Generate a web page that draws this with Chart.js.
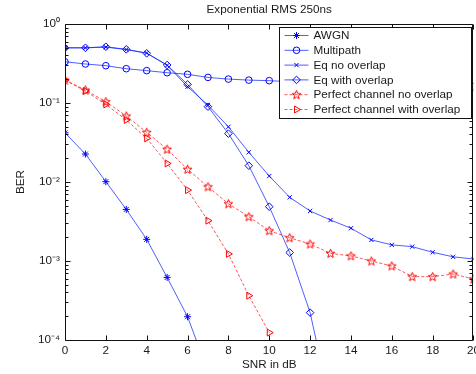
<!DOCTYPE html>
<html>
<head>
<meta charset="utf-8">
<script src="https://cdn.jsdelivr.net/npm/chart.js@4/dist/chart.umd.min.js"></script>
<style>
  html, body { margin: 0; padding: 0; background: #fff; overflow: hidden; width: 476px; height: 374px; }
  canvas { display: block; }
</style>
</head>
<body>
<canvas id="chart" width="484" height="374"></canvas>
<script>
// SNR (dB) values and BER curves
const snr = [0, 1, 2, 3, 4, 5, 6, 7, 8, 9, 10, 11, 12, 13, 14, 15, 16, 17, 18, 19, 20]
const awgn = [0.042, 0.0226, 0.0101, 0.0045, 0.00188, 0.00062, 0.000197, 0.00004]
const multipath = [0.333, 0.312, 0.297, 0.272, 0.257, 0.242, 0.231, 0.211, 0.201, 0.195, 0.192,
  0.186, 0.183, 0.18, 0.177, 0.174, 0.171, 0.168, 0.166, 0.163, 0.161]
const eqNoOverlap = [0.5, 0.5, 0.51, 0.475, 0.43, 0.3, 0.161, 0.094, 0.05, 0.0238, 0.0119,
  0.0064, 0.0043, 0.0033, 0.0026, 0.00185, 0.0016, 0.00152, 0.00129, 0.00113, 0.00106]
const eqOverlap = [0.5, 0.5, 0.516, 0.478, 0.426, 0.303, 0.172, 0.09, 0.041, 0.0161, 0.00487,
  0.00128, 0.000222, 0.000015]
const perfectNoOverlap = [0.195, 0.146, 0.104, 0.0685, 0.0426, 0.026, 0.0145, 0.0087, 0.0053, 0.00364, 0.00242,
  0.00197, 0.00164, 0.00125, 0.00116, 0.001, 0.000865, 0.000634, 0.000634, 0.000684, 0.000592]
const perfectOverlap = [0.195, 0.142, 0.096, 0.061, 0.0357, 0.0172, 0.0079, 0.00324, 0.00123, 0.000364, 0.000124]

const yTickValues = [1e-4, 1e-3, 1e-2, 1e-1, 1]
const xTickValues = [0, 2, 4, 6, 8, 10, 12, 14, 16, 18, 20]

const FONT = '"Liberation Sans", Arial, Helvetica, sans-serif'
const FSIZE = 11.7
const TEXT = '#1a1a1a'
const BLUE_LINE = 'rgba(20, 40, 255, 0.75)'
const BLUE = '#0000ff'
const RED_LINE = 'rgba(255, 30, 30, 0.75)'
const RED = '#ff0000'

const SUP = { '-': '\u207B', '0': '\u2070', '1': '\u00B9', '2': '\u00B2', '3': '\u00B3', '4': '\u2074' }
function powLabel(v) {
  const e = Math.round(Math.log10(v))
  return '10' + String(e).split('').map(c => SUP[c]).join('')
}

// hollow five-pointed star marker (MATLAB 'p')
function makePentagram(color) {
  const c = document.createElement('canvas')
  c.width = 11
  c.height = 11
  const g = c.getContext('2d')
  g.strokeStyle = color
  g.lineWidth = 1
  g.beginPath()
  for (let i = 0; i < 10; i++) {
    const r = i % 2 === 0 ? 4.6 : 2
    const a = -Math.PI / 2 + i * Math.PI / 5
    const px = 5.5 + r * Math.cos(a)
    const py = 5.8 + r * Math.sin(a)
    if (i === 0) g.moveTo(px, py)
    else g.lineTo(px, py)
  }
  g.closePath()
  g.stroke()
  return c
}
const pentagram = makePentagram(RED)

function pts(values) {
  return values.map((v, i) => ({ x: snr[i], y: v }))
}

function series(label, values, line, marker, style, radius, extra) {
  return Object.assign({
    label: label,
    data: pts(values),
    borderColor: line,
    borderWidth: 1,
    pointStyle: style,
    pointRadius: radius,
    pointBorderColor: marker,
    pointBackgroundColor: 'rgba(0,0,0,0)',
    pointBorderWidth: 1,
    pointHoverRadius: radius,
    tension: 0,
    fill: false
  }, extra || {})
}

const datasets = [
  series('AWGN', awgn, BLUE_LINE, BLUE, 'star', 3.5),
  series('Multipath', multipath, BLUE_LINE, BLUE, 'circle', 3.3),
  series('Eq no overlap', eqNoOverlap, BLUE_LINE, BLUE, 'crossRot', 3),
  series('Eq with overlap', eqOverlap, BLUE_LINE, BLUE, 'rectRot', 3.8),
  series('Perfect channel no overlap', perfectNoOverlap, RED_LINE, RED, pentagram, 5, { borderDash: [3, 2] }),
  series('Perfect channel with overlap', perfectOverlap, RED_LINE, RED, 'triangle', 4, { borderDash: [3, 2], pointRotation: 90 })
]

// MATLAB style box with inward ticks, then the legend box inside the axes
const matlabAxes = {
  id: 'matlabAxes',
  afterDatasetsDraw(chart) {
    const ctx = chart.ctx
    const a = chart.chartArea
    const xs = chart.scales.x
    const ys = chart.scales.y
    const L = Math.round(a.left) + 0.5
    const R = Math.round(a.right) - 0.5
    const T = Math.round(a.top) + 0.5
    const B = Math.round(a.bottom) + 0.5
    ctx.save()
    ctx.strokeStyle = '#111'
    ctx.lineWidth = 1
    ctx.beginPath()
    ctx.rect(L, T, R - L, B - T)
    xTickValues.forEach(v => {
      const px = Math.round(xs.getPixelForValue(v)) + 0.5
      ctx.moveTo(px, B); ctx.lineTo(px, B - 5)
      ctx.moveTo(px, T); ctx.lineTo(px, T + 5)
    })
    for (let e = -4; e <= 0; e++) {
      for (let m = 1; m <= 9; m++) {
        const v = m * Math.pow(10, e)
        if (v > 1) break
        const py = Math.round(ys.getPixelForValue(v)) + 0.5
        const len = m === 1 ? 5 : 3
        ctx.moveTo(L, py); ctx.lineTo(L + len, py)
        ctx.moveTo(R, py); ctx.lineTo(R - len, py)
      }
    }
    ctx.stroke()

    // legend
    const lw = 192, lh = 91
    const lx = Math.round(a.right) - 194 + 0.5
    const ly = Math.round(a.top) + 3 + 0.5
    ctx.fillStyle = '#fff'
    ctx.fillRect(lx, ly, lw, lh)
    ctx.strokeStyle = '#111'
    ctx.strokeRect(lx, ly, lw, lh)
    ctx.font = FSIZE + 'px ' + FONT
    ctx.textBaseline = 'middle'
    ctx.textAlign = 'left'
    chart.data.datasets.forEach((ds, i) => {
      const cy = ly + 8 + i * 14.8
      ctx.save()
      ctx.strokeStyle = ds.borderColor
      ctx.setLineDash(ds.borderDash || [])
      ctx.beginPath()
      ctx.moveTo(lx + 5, cy)
      ctx.lineTo(lx + 29, cy)
      ctx.stroke()
      ctx.setLineDash([])
      ctx.strokeStyle = ds.pointBorderColor
      ctx.fillStyle = 'rgba(0,0,0,0)'
      ctx.lineWidth = 1
      Chart.helpers.drawPoint(ctx, {
        pointStyle: ds.pointStyle,
        radius: ds.pointRadius,
        rotation: ds.pointRotation || 0,
        borderWidth: 1
      }, lx + 17, cy)
      ctx.restore()
      ctx.fillStyle = TEXT
      ctx.fillText(ds.label, lx + 34, cy + 0.5)
    })
    ctx.restore()
  }
}

const ctx = document.getElementById('chart').getContext('2d')
new Chart(ctx, {
  type: 'line',
  data: { datasets: datasets },
  plugins: [matlabAxes],
  options: {
    responsive: false,
    animation: false,
    events: [],
    layout: { padding: 0 },
    plugins: {
      legend: { display: false },
      tooltip: { enabled: false },
      title: {
        display: true,
        text: 'Exponential RMS 250ns',
        fullSize: false,
        color: TEXT,
        font: { family: FONT, size: FSIZE, weight: 'normal' },
        padding: { top: 3, bottom: 7 }
      }
    },
    scales: {
      x: {
        type: 'linear',
        min: 0,
        max: 20,
        afterBuildTicks: s => { s.ticks = xTickValues.map(v => ({ value: v })) },
        afterFit: s => { s.height = 34; s.paddingLeft = 0 },
        grid: { display: false, drawTicks: false },
        border: { display: false },
        ticks: { color: TEXT, padding: 4, maxRotation: 0, font: { family: FONT, size: FSIZE } },
        title: {
          display: true,
          text: 'SNR in dB',
          color: TEXT,
          font: { family: FONT, size: FSIZE },
          padding: { top: 0, bottom: 2 }
        }
      },
      y: {
        type: 'logarithmic',
        min: 1e-4,
        max: 1,
        afterBuildTicks: s => { s.ticks = yTickValues.map(v => ({ value: v })) },
        afterFit: s => { s.width = 65; s.paddingTop = 0; s.paddingBottom = 0 },
        grid: { display: false, drawTicks: false },
        border: { display: false },
        ticks: {
          color: TEXT,
          padding: 5,
          font: { family: FONT, size: FSIZE },
          callback: v => powLabel(v)
        },
        title: {
          display: true,
          text: 'BER',
          color: TEXT,
          font: { family: FONT, size: FSIZE },
          padding: { top: 14, bottom: 0 }
        }
      }
    }
  }
})
</script>
</body>
</html>
